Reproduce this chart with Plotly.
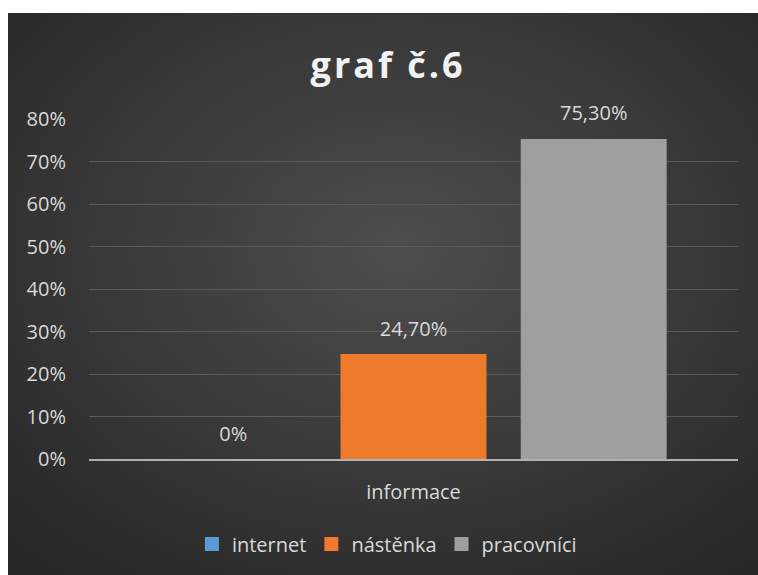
import base64
import plotly.graph_objects as go

categories = ["informace"]
series_names = ["internet", "nástěnka", "pracovníci"]
series_values = [0.0, 0.247, 0.753]
series_colors = ["#5b9bd5", "#ee7b2b", "#9f9f9f"]
y_ticks = [0, 0.1, 0.2, 0.3, 0.4, 0.5, 0.6, 0.7, 0.8]


def fmt(v):
    if v == 0:
        return "0%"
    return f"{v*100:.2f}".replace(".", ",") + "%"


svg = (
    '<svg xmlns="http://www.w3.org/2000/svg" width="750" height="562">'
    '<defs><radialGradient id="g" cx="0.52" cy="0.42" r="0.75">'
    '<stop offset="0" stop-color="#4d4d4d"/>'
    '<stop offset="1" stop-color="#262626"/>'
    '</radialGradient></defs>'
    '<rect width="750" height="562" fill="url(#g)"/></svg>'
)
bg_uri = "data:image/svg+xml;base64," + base64.b64encode(svg.encode()).decode()

W, H = 758, 575
ml, mr, mt, mb = 89, 20, 119, 116
pw, ph = W - ml - mr, H - mt - mb

font_family = "'Open Sans', 'Noto Sans', sans-serif"
txt_color = "#d9d9d9"
fs = 20
gap = 0.167

fig = go.Figure()
for name, v, c in zip(series_names, series_values, series_colors):
    fig.add_trace(go.Bar(
        name=name, x=categories, y=[v], marker=dict(color=c, line=dict(width=0)),
        hoverinfo="skip", showlegend=False, legendgroup=name,
    ))
# data labels, placed with the same grouping as the bars
for name, v in zip(series_names, series_values):
    fig.add_trace(go.Scatter(
        name=name, x=categories, y=[v], mode="markers+text", showlegend=False,
        text=[fmt(v)], textposition="top center", cliponaxis=False,
        marker=dict(size=20, color="rgba(0,0,0,0)"), hoverinfo="skip",
        textfont=dict(color=txt_color, size=fs, family=font_family),
    ))
# legend entries with larger square swatches (on a hidden axis)
for name, c in zip(series_names, series_colors):
    fig.add_trace(go.Scatter(
        name=name, x=[None], y=[None], mode="markers", xaxis="x2", legendgroup=name,
        marker=dict(symbol="square", size=14, color=c), hoverinfo="skip",
    ))

fig.update_layout(
    width=W, height=H,
    margin=dict(l=ml, r=mr, t=mt, b=mb, pad=0),
    paper_bgcolor="white", plot_bgcolor="rgba(0,0,0,0)",
    barmode="group", bargap=gap, bargroupgap=0.19,
    scattermode="group", scattergap=gap,
    title=dict(text="<b><span style='letter-spacing:3px'>graf č.6</span></b>",
               x=0.512, xanchor="center", y=1 - 65 / H, yanchor="middle",
               font=dict(size=36, color="#f2f2f2", family=font_family)),
    font=dict(family=font_family, color=txt_color, size=fs),
    xaxis=dict(showgrid=False, showline=True, linecolor="#b0b0b0", linewidth=2,
               tickfont=dict(size=fs, color=txt_color), ticks="", ticklabelstandoff=14),
    xaxis2=dict(overlaying="x", visible=False, range=[0, 1]),
    yaxis=dict(range=[0, 0.8], tickvals=y_ticks, tickformat=".0%", showgrid=True,
               gridcolor="#5a5a5a", gridwidth=1, zeroline=False, showline=False,
               tickfont=dict(size=fs, color=txt_color), ticks="", ticklabelstandoff=22),
    legend=dict(orientation="h", x=0.459, xanchor="center", y=-(544 - 459) / ph, yanchor="middle",
                font=dict(size=fs, color=txt_color), bgcolor="rgba(0,0,0,0)",
                itemwidth=30, itemsizing="trace", traceorder="normal"),
    showlegend=True,
    images=[dict(source=bg_uri, xref="paper", yref="paper",
                 x=(8 - ml) / pw, y=(H - mb - 13) / ph, sizex=750 / pw, sizey=562 / ph,
                 xanchor="left", yanchor="top", sizing="stretch", layer="below")],
)

fig.write_html("out.html")
